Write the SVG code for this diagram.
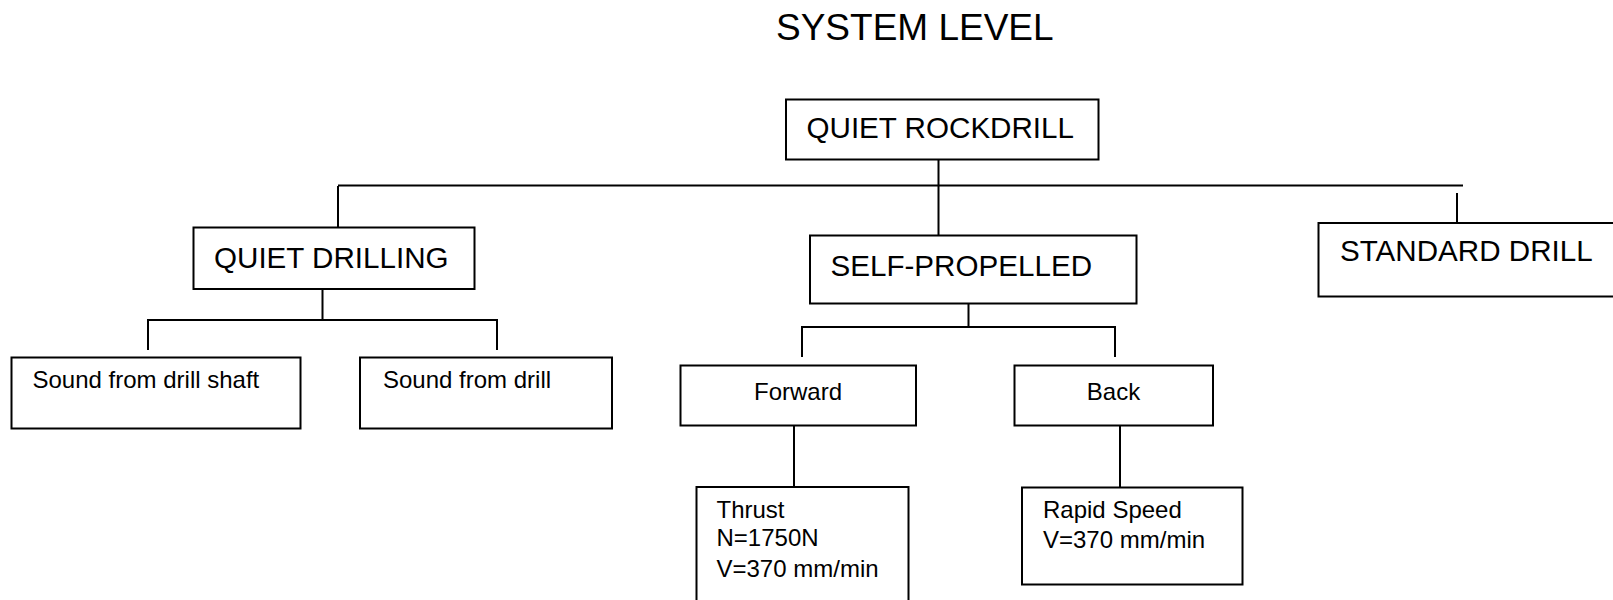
<svg xmlns="http://www.w3.org/2000/svg" width="1613" height="600" viewBox="0 0 1613 600">
<style>
.box{fill:#fff;stroke:#000;stroke-width:2}
.ln{stroke:#000;stroke-width:2;fill:none}
.big{font-family:"Liberation Sans",Arial,sans-serif;font-size:29.6px;fill:#000}
.sm{font-family:"Liberation Sans",Arial,sans-serif;font-size:24px;fill:#000}
.title{font-family:"Liberation Sans",Arial,sans-serif;font-size:37px;fill:#000}
</style>
<rect width="1613" height="600" fill="#fff"/>
<text class="title" x="776" y="40">SYSTEM LEVEL</text>
<g id="connectors">
<path class="ln" d="M938.5 159 V235.5"/>
<path class="ln" d="M338 185.5 H1463"/>
<path class="ln" d="M338 186 V227"/>
<path class="ln" d="M1457 193 V223"/>
<path class="ln" d="M322.5 289 V320 M148 320 H497 M148 319 V350 M497 319 V350"/>
<path class="ln" d="M968.5 303 V327 M802 327 H1115 M802 326 V357 M1115 326 V357"/>
<path class="ln" d="M794 425 V487"/>
<path class="ln" d="M1120 425 V487"/>
</g>
<g id="quiet-rockdrill">
<rect class="box" x="786" y="99.5" width="312.5" height="60"/>
<text class="big" x="806.5" y="137.5">QUIET ROCKDRILL</text>
</g>
<g id="quiet-drilling">
<rect class="box" x="193.5" y="227.5" width="281" height="61.5"/>
<text class="big" x="214" y="268">QUIET DRILLING</text>
</g>
<g id="self-propelled">
<rect class="box" x="810" y="235.5" width="326.5" height="68"/>
<text class="big" x="830.5" y="275.5">SELF-PROPELLED</text>
</g>
<g id="standard-drill">
<rect class="box" x="1318.5" y="223" width="310" height="73.5"/>
<text class="big" x="1340" y="261">STANDARD DRILL</text>
</g>
<g id="sound-shaft">
<rect class="box" x="11.5" y="357.5" width="289" height="71"/>
<text class="sm" x="32.5" y="388">Sound from drill shaft</text>
</g>
<g id="sound-drill">
<rect class="box" x="360" y="357.5" width="252" height="71"/>
<text class="sm" x="383" y="388">Sound from drill</text>
</g>
<g id="forward">
<rect class="box" x="680.5" y="365.5" width="235.5" height="60"/>
<text class="sm" x="798" y="400" text-anchor="middle">Forward</text>
</g>
<g id="back">
<rect class="box" x="1014.5" y="365.5" width="198.5" height="60"/>
<text class="sm" x="1113.5" y="400" text-anchor="middle">Back</text>
</g>
<g id="thrust">
<rect class="box" x="696.5" y="487" width="212" height="130"/>
<text class="sm" x="716.5" y="517.5">Thrust</text>
<text class="sm" x="716.5" y="546">N=1750N</text>
<text class="sm" x="716.5" y="576.5">V=370 mm/min</text>
</g>
<g id="rapid-speed">
<rect class="box" x="1022" y="487.5" width="220.5" height="97"/>
<text class="sm" x="1043" y="517.5">Rapid Speed</text>
<text class="sm" x="1043" y="548">V=370 mm/min</text>
</g>
</svg>
